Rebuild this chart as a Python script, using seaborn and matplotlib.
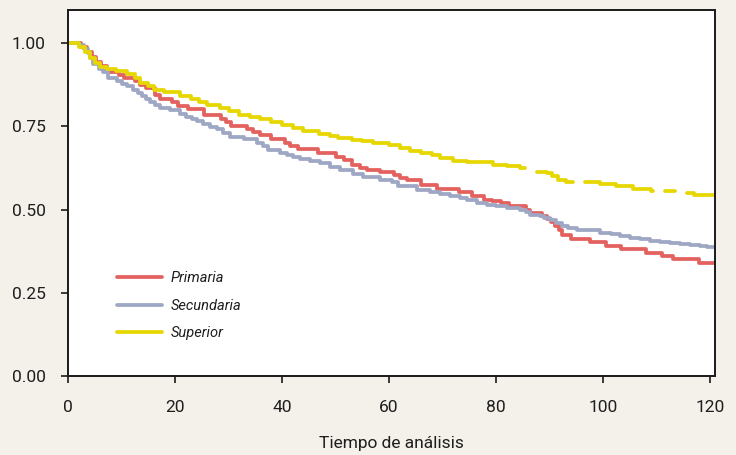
import numpy as np
import pandas as pd
import matplotlib
matplotlib.use("Agg")
import matplotlib.pyplot as plt
import seaborn as sns

# Kaplan-Meier survival estimates by education level (step change points)
primaria_t = [0, 2.5, 3.5, 4.5, 5.3, 6.2, 7.2, 9.5, 10.5, 12.5, 13.5, 14.5, 16.3, 17.2,
              19.5, 20.5, 22.5, 25.5, 28.5, 29.5, 30.5, 33.5, 34.5, 35.8, 38, 40.5, 41.5,
              43, 46.8, 50, 51.5, 53, 54.5, 55.8, 58.4, 61, 62, 63.3, 66, 69, 73, 75.5,
              77.7, 79.3, 81, 82.4, 85.5, 86.3, 88.5, 89.5, 90.3, 91, 91.7, 92.4, 94,
              97.5, 100.5, 103.3, 108, 111, 113, 118, 121]
primaria_s = [1.0, 0.99, 0.975, 0.96, 0.945, 0.932, 0.915, 0.905, 0.895, 0.888, 0.876,
              0.866, 0.845, 0.833, 0.823, 0.813, 0.803, 0.785, 0.773, 0.762, 0.751, 0.743,
              0.733, 0.723, 0.713, 0.700, 0.692, 0.683, 0.671, 0.658, 0.648, 0.635, 0.625,
              0.620, 0.612, 0.603, 0.595, 0.590, 0.575, 0.562, 0.552, 0.541, 0.530, 0.525,
              0.521, 0.512, 0.500, 0.490, 0.482, 0.472, 0.462, 0.450, 0.438, 0.425, 0.412,
              0.402, 0.392, 0.381, 0.370, 0.360, 0.351, 0.341, 0.341]

secundaria_t = [0, 2, 3, 3.7, 4.1, 4.7, 5.7, 6.6, 7.5, 9.1, 10, 11, 12.2, 13, 13.8, 14.5,
                15.3, 16.2, 17.2, 19.1, 20.9, 22, 23.1, 24.2, 25.3, 26.5, 27.8, 29, 30.3,
                32.8, 35.3, 36.5, 37.4, 39.6, 40.9, 42, 43.4, 45.3, 47.1, 49, 50.8, 53.3,
                55.2, 58.3, 60.5, 61.7, 63.3, 65.2, 67.7, 69.5, 71.4, 73.3, 74.5, 76.5,
                78.3, 80, 82, 84.5, 85.5, 86.4, 88.2, 89, 90.1, 91.2, 92.3, 93.5, 95.1, 97,
                99.4, 101.5, 103.2, 105, 106.9, 108.8, 110.7, 112.5, 114.4, 116.2, 118.1,
                119.5, 121]
secundaria_s = [1.0, 0.995, 0.982, 0.97, 0.957, 0.937, 0.923, 0.913, 0.896, 0.886, 0.878,
                0.871, 0.861, 0.851, 0.841, 0.832, 0.823, 0.814, 0.806, 0.798, 0.786, 0.779,
                0.773, 0.765, 0.756, 0.749, 0.741, 0.730, 0.719, 0.711, 0.700, 0.690, 0.679,
                0.671, 0.663, 0.658, 0.653, 0.646, 0.639, 0.629, 0.618, 0.608, 0.598, 0.588,
                0.582, 0.572, 0.570, 0.560, 0.552, 0.548, 0.540, 0.535, 0.528, 0.521, 0.515,
                0.510, 0.505, 0.500, 0.492, 0.485, 0.482, 0.476, 0.470, 0.461, 0.452, 0.446,
                0.440, 0.438, 0.430, 0.426, 0.422, 0.416, 0.411, 0.407, 0.404, 0.401, 0.398,
                0.395, 0.392, 0.389, 0.387]

# NaN entries mark stretches where the curve is not drawn
superior_t = [0, 2, 3.2, 4.2, 5, 6, 7.2, 9, 11, 12.5, 13.5, 15, 16, 18, 21, 23, 24.5, 25.9,
              28.4, 30, 32, 34, 35.9, 38, 40, 42, 44, 47, 49, 50.5, 53, 55, 57, 60, 62, 64,
              66, 68, 69.5, 72, 74.5, 79.5, 82, 84.5, 85.4, 87.7, 89.5, 90.5, 91.6, 93,
              94.4, 96.6, 99.4, 102.5, 105.6, 107.5, 109, 109.3, 111.6, 113.4, 115.7, 117,
              121]
superior_s = [1.0, 0.99, 0.975, 0.955, 0.94, 0.93, 0.922, 0.916, 0.907, 0.895, 0.881,
              0.872, 0.861, 0.853, 0.841, 0.832, 0.823, 0.816, 0.806, 0.797, 0.784, 0.778,
              0.773, 0.762, 0.753, 0.744, 0.735, 0.728, 0.722, 0.715, 0.710, 0.705, 0.699,
              0.693, 0.685, 0.677, 0.670, 0.663, 0.656, 0.645, 0.642, 0.635, 0.632, 0.625,
              np.nan, 0.612, 0.610, 0.600, 0.590, 0.583, np.nan, 0.583, 0.578, 0.570,
              0.563, 0.562, 0.555, np.nan, 0.555, np.nan, 0.550, 0.545, 0.545]

groups = ["Primaria", "Secundaria", "Superior"]
colors = ["#e3625f", "#9ea7c3", "#e6d700"]

x_ticks = [0, 20, 40, 60, 80, 100, 120]
y_ticks = [0.0, 0.25, 0.5, 0.75, 1.0]


def build_frame(name, t, s):
    """Split a step curve into drawable runs; a NaN closes the current run
    by carrying the last value up to that time."""
    rows = []
    run = 0
    last = None
    for ti, si in zip(t, s):
        if np.isnan(si):
            if last is not None:
                rows.append((ti, last, run))
            run += 1
            last = None
        else:
            rows.append((ti, si, run))
            last = si
    df = pd.DataFrame(rows, columns=["tiempo", "supervivencia", "tramo"])
    df["nivel"] = name
    df["tramo"] = name + "_" + df["tramo"].astype(str)
    return df


data = pd.concat([
    build_frame("Primaria", primaria_t, primaria_s),
    build_frame("Secundaria", secundaria_t, secundaria_s),
    build_frame("Superior", superior_t, superior_s),
], ignore_index=True)

sns.set_theme(style="white")
plt.rcParams["font.family"] = ["Roboto", "DejaVu Sans"]

text_color = "#1e1e1e"

fig = plt.figure(figsize=(7.36, 4.55), dpi=100, facecolor="#f4f1ea")
ax = fig.add_axes([0.0924, 0.1736, 0.8797, 0.8044])
ax.set_facecolor("white")

sns.lineplot(data=data, x="tiempo", y="supervivencia", hue="nivel", units="tramo",
             estimator=None, hue_order=groups, palette=colors, drawstyle="steps-post",
             linewidth=2.7, ax=ax, legend=False)

ax.set_xlim(0, 121)
ax.set_ylim(0, 1.1)
ax.set_xticks(x_ticks)
ax.set_xticklabels([str(v) for v in x_ticks])
ax.set_yticks(y_ticks)
ax.set_yticklabels([f"{v:.2f}" for v in y_ticks])
ax.set_xlabel("Tiempo de análisis", fontsize=12.5, color=text_color, labelpad=15)
ax.set_ylabel("")

for sp in ax.spines.values():
    sp.set_visible(True)
    sp.set_color("#1a1a1a")
    sp.set_linewidth(1.4)
ax.tick_params(axis="both", which="major", direction="out", length=5, width=1.2,
               color="#1a1a1a", labelsize=12.5, labelcolor=text_color,
               bottom=True, left=True)
ax.tick_params(axis="y", pad=11)
ax.tick_params(axis="x", pad=12.5)

handles = [plt.Line2D([], [], color=c, linewidth=2.7) for c in colors]
leg = ax.legend(handles, groups, loc="center left", bbox_to_anchor=(0.0757, 0.192),
                frameon=False, borderpad=0, borderaxespad=0, handlelength=3.1,
                handletextpad=0.55, labelspacing=0.92,
                prop={"style": "italic", "size": 10.5})
for txt in leg.get_texts():
    txt.set_color(text_color)

fig.savefig("out.png", dpi=100, facecolor=fig.get_facecolor())
